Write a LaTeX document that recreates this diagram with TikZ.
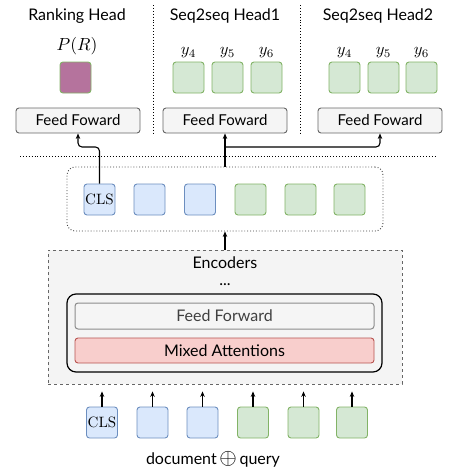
\documentclass[tikz,border=0pt]{standalone}
\usepackage{fontspec}
\setsansfont{Lato}
\usepackage{amsmath}
\usetikzlibrary{positioning}
\usetikzlibrary{arrows.meta}
\definecolor{tokblue}{HTML}{DAE8FC}
\definecolor{tokblueline}{HTML}{6C8EBF}
\definecolor{tokgreen}{HTML}{D5E8D4}
\definecolor{tokgreenline}{HTML}{82B366}
\definecolor{rankfill}{HTML}{B5739D}
\definecolor{ffill}{HTML}{F5F5F5}
\definecolor{ffline}{HTML}{666666}
\definecolor{encfill}{HTML}{F4F4F4}
\definecolor{attfill}{HTML}{F8CECC}
\definecolor{attline}{HTML}{B85450}
\newcommand{\bigmath}[2]{\scalebox{#1}{$#2$}}
\tikzset{
  tok/.style={rounded corners=3pt, minimum size=31pt, inner sep=0pt, line width=0.9pt},
  bluetok/.style={tok, fill=tokblue, draw=tokblueline},
  greentok/.style={tok, fill=tokgreen, draw=tokgreenline},
  headff/.style={draw=ffline, line width=0.9pt, fill=ffill, rounded corners=3pt, minimum width=124pt, minimum height=25pt, inner sep=0pt, font=\sffamily\fontsize{15}{17}\selectfont},
  title/.style={font=\sffamily\fontsize{16}{18}\selectfont},
  arr/.style={->, line width=1.1pt},
  >={Stealth[length=5.5pt,width=4.5pt]}
}

\begin{document}
\begin{tikzpicture}[x=1pt,y=-1pt]
\useasboundingbox (0,0) rectangle (450,474);
\node[title] (rankt) at (77,16) {Ranking Head};
\node[title] (seqat) at (225,16) {Seq2seq Head1};
\node[title] (seqbt) at (378,16) {Seq2seq Head2};
\draw[dotted, line width=0.9pt] (153,5) -- (153,135);
\draw[dotted, line width=0.9pt] (300,5) -- (300,135);
\node (pr) at (77,46) {\bigmath{1.75}{P(R)}};
\node[tok, fill=rankfill, draw=tokgreenline] (rank) at (75.5,77.5) {};
\foreach \i/\x in {4/188.5,5/227.5,6/266.5}{
  \node[greentok] (ya\i) at (\x,77.5) {};
  \node[above=0pt of ya\i] {\bigmath{1.65}{y_\i}};
}
\foreach \i/\x in {4/344.5,5/383.5,6/421.5}{
  \node[greentok] (yb\i) at (\x,77.5) {};
  \node[above=0pt of yb\i] {\bigmath{1.65}{y_\i}};
}
\node[headff] (ffr) at (78,120.5) {Feed Foward};
\node[headff] (ffa) at (225,120.5) {Feed Foward};
\node[headff] (ffb) at (380,120.5) {Feed Foward};
\draw[dotted, line width=0.9pt] (20,156) -- (436,156);
\node[draw=black!75, dotted, line width=0.9pt, rounded corners=8pt, minimum width=316pt, minimum height=64pt] (outbox) at (225,199) {};
\foreach \i/\x/\c in {1/99.5/blue,2/149.5/blue,3/200/blue,4/250.5/green,5/300.5/green,6/349.5/green}{
  \node[\c tok] (out\i) at (\x,199.5) {};
}
\node at (out1) {\scalebox{1.5}{CLS}};
\coordinate (fork) at (224,147);
\draw[arr, rounded corners=4pt] (out1.north) |- (90,147) -| (ffr.south);
\draw[arr] (outbox.north) -- (ffa.south);
\draw[arr, rounded corners=4pt] (fork) -| (ffb.south);
\node[draw=black!60, dashed, line width=0.8pt, fill=encfill, minimum width=354pt, minimum height=134pt] (enc) at (225,317) {};
\draw[arr] (enc.north) -- (outbox.south);
\node[title] (enct) at (225,263) {Encoders};
\node[title, inner sep=1pt] (dots) at (225,285) {...};
\node[draw, line width=1.2pt, rounded corners=9pt, minimum width=315pt, minimum height=78pt] (layer) at (224.5,333) {};
\node[draw=black!45, line width=1pt, fill=ffill, rounded corners=3pt, minimum width=299pt, minimum height=26pt, text=black!75, font=\sffamily\fontsize{16}{18}\selectfont] (ff) at (224.5,316) {Feed Forward};
\node[draw=attline, line width=0.9pt, fill=attfill, rounded corners=3pt, minimum width=299pt, minimum height=25pt, font=\sffamily\fontsize{16}{18}\selectfont] (att) at (224.5,350.5) {Mixed Attentions};
\foreach \i/\x/\c in {1/102/blue,2/152.5/blue,3/202.5/blue,4/253/green,5/303.5/green,6/352/green}{
  \node[\c tok] (in\i) at (\x,422.5) {};
  \draw[arr, shorten >=7pt] (in\i.north) -- (in\i.north |- enc.south);
}
\node at (in1) {\scalebox{1.5}{CLS}};
\node[title] (inp) at (213,459) {document\,\scalebox{1.3}{$\oplus$}\,query};
\end{tikzpicture}
\end{document}
